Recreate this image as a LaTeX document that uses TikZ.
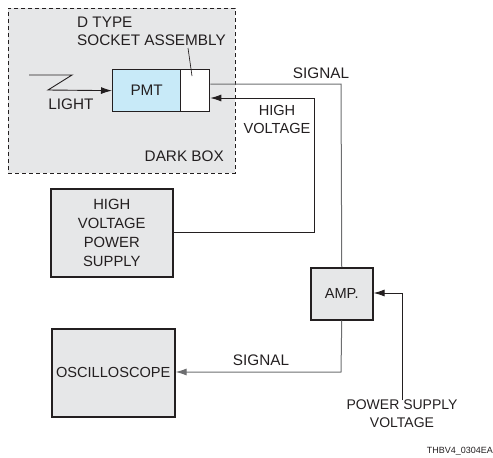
\documentclass[tikz,border=0pt]{standalone}
\usepackage{fontspec}
\setmainfont{Liberation Sans}
\usetikzlibrary{arrows.meta}
\definecolor{ink}{HTML}{231F20}
\definecolor{boxgray}{HTML}{E6E7E8}
\definecolor{pmtblue}{HTML}{C8EAF8}
\definecolor{sig}{HTML}{6D6E70}
\begin{document}
\begin{tikzpicture}[x=1pt,y=-1pt,
  every node/.style={font=\fontsize{15.3}{18.5}\selectfont, text=ink, inner sep=0pt},
  unit/.style={draw=ink, line width=1.5pt, fill=boxgray, align=center},
  lbl/.style={align=center},
  sigline/.style={draw=sig, line width=1pt},
  wire/.style={draw=ink, line width=0.9pt},
  tip/.style={-{Latex[length=11pt,width=7pt]}}]
\useasboundingbox (0,0) rectangle (493,458);
% dark box
\node[draw=ink, dashed, dash pattern=on 4pt off 3pt, line width=0.9pt, fill=boxgray,
  minimum width=227pt, minimum height=165pt, anchor=north west] (dark) at (8,8) {};
\node[anchor=south east] (darklbl) at (224,162) {DARK BOX};
% PMT and socket
\node[draw=ink, line width=1.3pt, fill=pmtblue, minimum width=68pt, minimum height=42pt, anchor=north west] (pmt) at (112,69) {PMT};
\node[draw=ink, line width=1.3pt, fill=white, minimum width=29pt, minimum height=42pt, anchor=north west] (sock) at (180,69) {};
\node[anchor=west] (dtype) at (77,22) {D TYPE};
\node[anchor=west] (sockasm) at (77,40) {SOCKET ASSEMBLY};
\coordinate (sockpt) at (192,76);
\coordinate (sockln) at (188,48);
\draw[ink, line width=0.7pt] (sockln) -- (sockpt);
% light
\coordinate (l1) at (29,75);
\coordinate (l2) at (72,75);
\coordinate (l3) at (48,90);
\draw[wire, tip] (l1) -- (l2) -- (l3) -- (pmt.west);
\node (light) at (71,104) {LIGHT};
% HV power supply
\node[unit, minimum width=122pt, minimum height=88pt, anchor=north west] (hvps) at (50,188) {};
\node[lbl, font=\fontsize{14.8}{19}\selectfont] (hvpstxt) at (hvps.center) {HIGH\\VOLTAGE\\POWER\\SUPPLY};
% amp
\node[unit, minimum width=62pt, minimum height=52pt, anchor=north west, font=\fontsize{14.6}{18}\selectfont] (amp) at (310,267) {AMP.};
% oscilloscope
\node[unit, minimum width=123pt, minimum height=88pt, anchor=north west, font=\fontsize{14.6}{18}\selectfont] (osc) at (51,328) {OSCILLOSCOPE};
% signal from socket to amp
\coordinate (s1) at (341,84);
\draw[sigline] (sock.east |- s1) -- (s1) -- (amp.north);
\node (sigtop) at (321,73) {SIGNAL};
% high voltage
\coordinate (h1) at (314,232);
\coordinate (h2) at (314,98);
\draw[wire, tip] (hvps.east |- h1) -- (h1) -- (h2) -- (sock.east |- h2);
\node[lbl, font=\fontsize{14.6}{18}\selectfont] (hvtxt) at (277,119) {HIGH\\VOLTAGE};
% signal to oscilloscope
\coordinate (s2) at (341,372);
\draw[sigline, tip] (amp.south) -- (s2) -- (osc.east |- s2);
\node (sigbot) at (261,360) {SIGNAL};
% power supply voltage
\node[lbl, anchor=north, font=\fontsize{14}{18}\selectfont] (psv) at (402,400) {POWER SUPPLY\\VOLTAGE};
\coordinate (p1) at (402,293);
\draw[wire, tip] (psv.north) -- (p1) -- (amp.east |- p1);
% figure id
\node[anchor=east, font=\fontsize{9}{10}\selectfont] (fid) at (493,451) {THBV4\_0304EA};
\end{tikzpicture}
\end{document}
